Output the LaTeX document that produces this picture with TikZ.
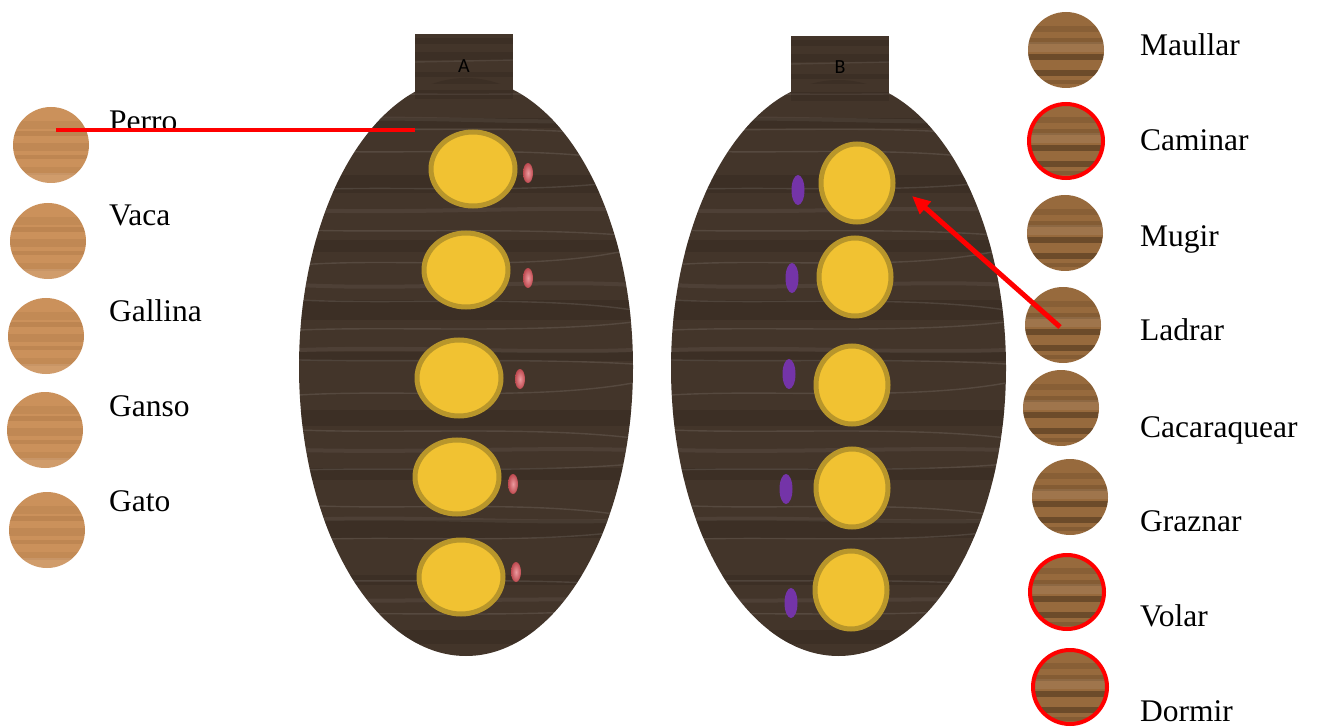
\documentclass[tikz,border=0pt]{standalone}
\usepackage{fontspec}
\setmainfont{Liberation Serif}
\newfontfamily\calibri{Carlito}
\usetikzlibrary{arrows.meta,calc,shapes.geometric}
\definecolor{wooddark}{HTML}{43352A}
\definecolor{woodband}{HTML}{2F241C}
\definecolor{woodlight}{HTML}{CB915B}
\definecolor{woodmid}{HTML}{976A3D}
\definecolor{goldfill}{HTML}{F1C232}
\definecolor{goldedge}{HTML}{B8962B}
\definecolor{pinkdot}{HTML}{E0575E}
\definecolor{purpledot}{HTML}{7434A8}
\newcommand{\paddlegrain}[2]{%
  \foreach \y/\h in {70/14,118/10,175/18,240/12,300/20,352/9,410/16,468/12,520/18,575/10,630/14}{
    \fill[woodband,opacity=0.35] (#1,\y) rectangle (#2,\y+\h);}
  \foreach \y/\a in {60/4,95/-3,128/5,150/6,190/-5,230/3,265/-8,300/5,330/-4,360/2,395/-6,430/4,470/-3,505/6,540/-5,580/3,615/-4}{
    \draw[white,opacity=0.10,line width=1.4pt] (#1,\y) .. controls ($(#1,\y)!0.3!(#2,\y)+(0,\a)$) and ($(#1,\y)!0.7!(#2,\y)+(0,-\a)$) .. (#2,\y+\a*2);}
  \foreach \y/\a in {120/5,210/-4,285/-6,350/4,450/-3,520/5,600/-2}{
    \draw[white,opacity=0.06,line width=4pt] (#1,\y) .. controls ($(#1,\y)!0.35!(#2,\y)+(0,-\a)$) and ($(#1,\y)!0.7!(#2,\y)+(0,\a)$) .. (#2,\y);}
}
\begin{document}
\begin{tikzpicture}[x=1pt,y=-1pt,
  lbl/.style={anchor=base west,inner sep=0pt,font=\fontsize{31.5}{36}\selectfont},
  tablbl/.style={inner sep=0pt,font=\calibri\fontsize{20}{22}\selectfont,text=black},
  yolk/.style={ellipse,draw=goldedge,line width=5pt,fill=goldfill,inner sep=0pt},
  pinkd/.style={ellipse,inner color=pinkdot!60!white,outer color=pinkdot!85!black,minimum width=10pt,minimum height=20pt,inner sep=0pt},
  purpd/.style={ellipse,fill=purpledot,minimum width=13pt,minimum height=30pt,inner sep=0pt},
  woodL/.style={circle,minimum size=76pt,inner sep=0pt,fill=woodlight,
    path picture={
      \foreach \dy/\h/\op in {24/8/0.12,14/5/0.2,2/8/0.15,-10/4/0.18,-22/8/0.12}{
        \fill[brown!70!black,opacity=\op] ([yshift=\dy pt]path picture bounding box.west) rectangle ([yshift=\dy pt-\h pt]path picture bounding box.east);}
      \fill[white,opacity=0.10] ([yshift=-28pt]path picture bounding box.west) rectangle (path picture bounding box.south east);
    }},
  woodM/.style={circle,minimum size=76pt,inner sep=0pt,fill=woodmid,
    path picture={
      \foreach \dy/\h/\op in {24/6/0.15,12/6/0.2,-4/6/0.45,-20/6/0.45,-30/4/0.2}{
        \fill[black!70!brown,opacity=\op] ([yshift=\dy pt]path picture bounding box.west) rectangle ([yshift=\dy pt-\h pt]path picture bounding box.east);}
      \fill[white,opacity=0.08] ([yshift=8pt]path picture bounding box.west) rectangle ([yshift=-2pt]path picture bounding box.east);
    }},
  redring/.style={draw=red,line width=4pt,minimum size=74pt}
]
\useasboundingbox (0,0) rectangle (1317,727);

% ---------- paddle A ----------
\fill[wooddark] (415,34) rectangle (513,110);
\fill[wooddark] (466,367) ellipse [x radius=167, y radius=289];
\begin{scope}
  \clip (466,367) ellipse [x radius=167, y radius=289];
  \paddlegrain{299}{633}
\end{scope}
\begin{scope}
  \clip (415,34) rectangle (513,110);
  \foreach \y/\h in {38/6,52/8,72/5,90/9}{\fill[woodband,opacity=0.3] (415,\y) rectangle (513,\y+\h);}
  \draw[white,opacity=0.08,line width=1.4pt] (415,62) -- (513,60);
\end{scope}
\node[ellipse,minimum width=334pt,minimum height=578pt,inner sep=0pt] (padA) at (466,367) {};
\node[tablbl] (labA) at (464,66) {A};

\node[yolk,minimum width=84pt,minimum height=74pt] (a1) at (473,169) {};
\node[yolk,minimum width=84pt,minimum height=74pt] (a2) at (466,270) {};
\node[yolk,minimum width=84pt,minimum height=76pt] (a3) at (459,378) {};
\node[yolk,minimum width=84pt,minimum height=74pt] (a4) at (457,477) {};
\node[yolk,minimum width=84pt,minimum height=74pt] (a5) at (461,577) {};
\node[pinkd] (pa1) at (528,173) {};
\node[pinkd] (pa2) at (528,278) {};
\node[pinkd] (pa3) at (520,379) {};
\node[pinkd] (pa4) at (513,484) {};
\node[pinkd] (pa5) at (516,572) {};

% ---------- paddle B ----------
\fill[wooddark] (791,36) rectangle (889,110);
\fill[wooddark] (838.5,368) ellipse [x radius=167.5, y radius=288];
\begin{scope}
  \clip (838.5,368) ellipse [x radius=167.5, y radius=288];
  \paddlegrain{671}{1006}
\end{scope}
\begin{scope}
  \clip (791,36) rectangle (889,110);
  \foreach \y/\h in {40/6,54/8,74/5,92/9}{\fill[woodband,opacity=0.3] (791,\y) rectangle (889,\y+\h);}
  \draw[white,opacity=0.08,line width=1.4pt] (791,64) -- (889,62);
\end{scope}
\node[ellipse,minimum width=335pt,minimum height=576pt,inner sep=0pt] (padB) at (838.5,368) {};
\node[tablbl] (labB) at (840,67) {B};

\node[yolk,minimum width=72pt,minimum height=78pt] (b1) at (857,183) {};
\node[yolk,minimum width=72pt,minimum height=78pt] (b2) at (855,277) {};
\node[yolk,minimum width=72pt,minimum height=78pt] (b3) at (852,385) {};
\node[yolk,minimum width=72pt,minimum height=78pt] (b4) at (852,488) {};
\node[yolk,minimum width=72pt,minimum height=78pt] (b5) at (851,590) {};
\node[purpd] (pb1) at (798,190) {};
\node[purpd] (pb2) at (792,278) {};
\node[purpd] (pb3) at (789,374) {};
\node[purpd] (pb4) at (786,489) {};
\node[purpd] (pb5) at (791,603) {};

% ---------- left column ----------
\node[woodL] (cPerro) at (51,145) {};
\node[woodL] (cVaca) at (48,241) {};
\node[woodL] (cGallina) at (46,336) {};
\node[woodL] (cGanso) at (45,430) {};
\node[woodL] (cGato) at (47,530) {};
\node[lbl] (tPerro) at (109,132) {Perro};
\node[lbl] (tVaca) at (109,226) {Vaca};
\node[lbl] (tGallina) at (109,321) {Gallina};
\node[lbl] (tGanso) at (109,416) {Ganso};
\node[lbl] (tGato) at (109,511) {Gato};

% ---------- right column ----------
\node[woodM] (cMaullar) at (1066,50) {};
\node[woodM,redring] (cCaminar) at (1066,141) {};
\node[woodM] (cMugir) at (1065,233) {};
\node[woodM] (cLadrar) at (1063,325) {};
\node[woodM] (cCacar) at (1061,408) {};
\node[woodM] (cGraznar) at (1070,497) {};
\node[woodM,redring] (cVolar) at (1067,592) {};
\node[woodM,redring] (cDormir) at (1070,687) {};
\node[lbl] (tMaullar) at (1140,56) {Maullar};
\node[lbl] (tCaminar) at (1140,151) {Caminar};
\node[lbl] (tMugir) at (1140,247) {Mugir};
\node[lbl] (tLadrar) at (1140,341) {Ladrar};
\node[lbl] (tCacar) at (1140,437) {Cacaraquear};
\node[lbl] (tGraznar) at (1140,531) {Graznar};
\node[lbl] (tVolar) at (1140,626) {Volar};
\node[lbl] (tDormir) at (1140,721) {Dormir};

% ---------- connectors ----------
\coordinate (perroEnd) at (415,130);
\draw[red,line width=3.5pt] ([xshift=5pt,yshift=15pt]cPerro.center) -- (perroEnd);
\coordinate (arrowEnd) at (912,196);
\draw[red,line width=5pt,-{Triangle[length=18pt,width=16pt]}] ([xshift=-3pt,yshift=-2pt]cLadrar.center) -- (arrowEnd);
\end{tikzpicture}
\end{document}
